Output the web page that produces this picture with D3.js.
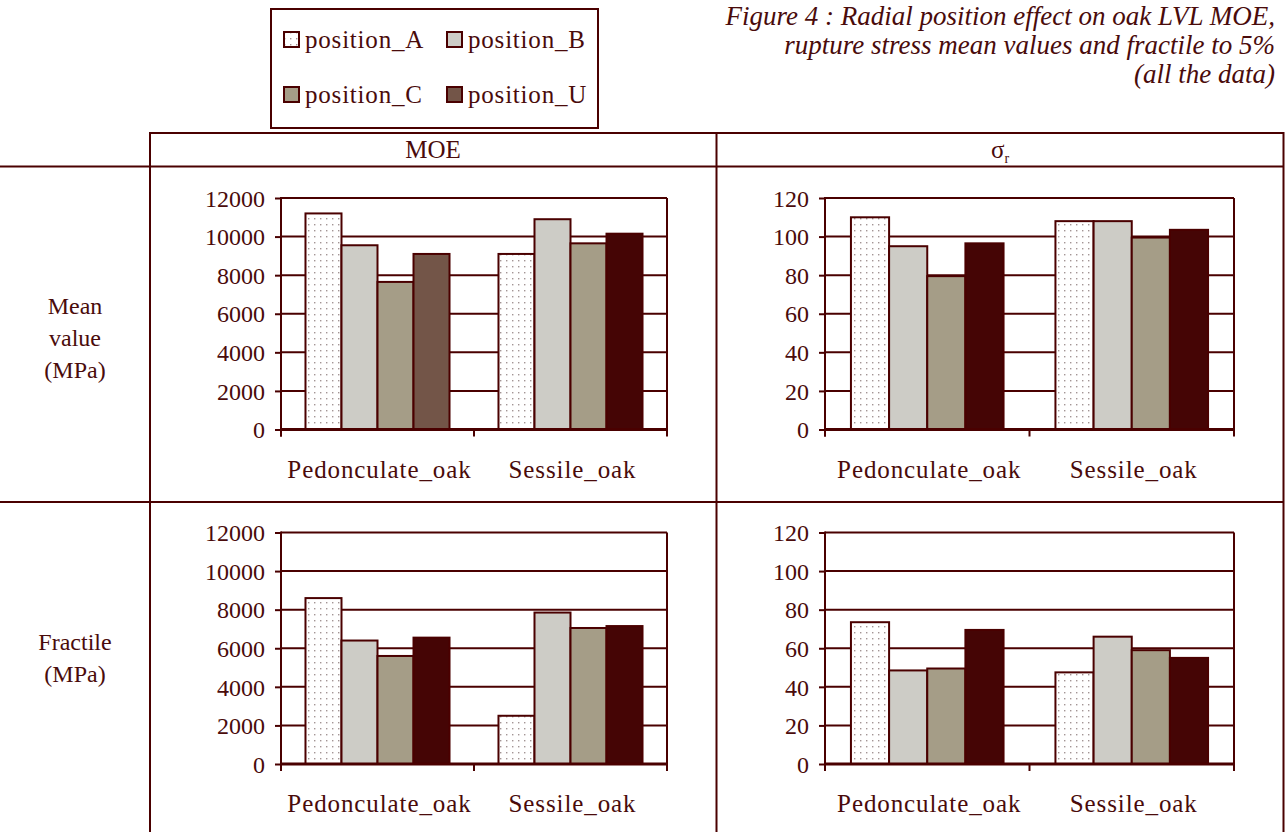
<!DOCTYPE html>
<html>
<head>
<meta charset="utf-8">
<script src="https://cdn.jsdelivr.net/npm/d3@7"></script>
<style>
  html, body { margin: 0; padding: 0; background: #fff; }
  svg { display: block; }
  text { font-family: "Liberation Serif", "Times New Roman", serif; fill: #4a0b0b; }
</style>
</head>
<body>
<svg id="chart" width="1286" height="832"></svg>
<script>
// ---------- data ----------
const categories = ["Pedonculate_oak", "Sessile_oak"];
const series = ["position_A", "position_B", "position_C", "position_U"];

const moeMean      = { position_A: [11200, 9100], position_B: [9550, 10900], position_C: [7650, 9650], position_U: [9100, 10150] };
const sigmaMean    = { position_A: [110, 108],    position_B: [95, 108],     position_C: [79.5, 99.5], position_U: [96.5, 103.5] };
const moeFractile  = { position_A: [8600, 2500],  position_B: [6400, 7850],  position_C: [5600, 7050], position_U: [6550, 7150] };
const sigmaFractile= { position_A: [73.5, 47.5],  position_B: [48.5, 66],    position_C: [49.5, 59],   position_U: [69.5, 55] };

const moeTicks = [0, 2000, 4000, 6000, 8000, 10000, 12000];
const sigmaTicks = [0, 20, 40, 60, 80, 100, 120];

const titleLines = [
  "Figure 4 : Radial position effect on oak LVL MOE,",
  "rupture stress mean values and fractile to 5%",
  "(all the data)"
];
const columnHeaders = ["MOE", "σ"];
const rowHeaders = [["Mean", "value", "(MPa)"], ["Fractile", "(MPa)"]];

// ---------- styles ----------
const LINE = "#4a0000";
const colors = { position_A: "url(#dots)", position_B: "#cdccc6", position_C: "#a59d87", position_U: "#735548" };
const darkU = "#450505";

const svg = d3.select("#chart");
const defs = svg.append("defs");
const pat = defs.append("pattern").attr("id", "dots").attr("patternUnits", "userSpaceOnUse")
  .attr("width", 6).attr("height", 6);
pat.append("rect").attr("width", 6).attr("height", 6).attr("fill", "#fff");
pat.append("rect").attr("x", 2).attr("y", 2).attr("width", 1.4).attr("height", 1.4).attr("fill", "#a39595");

// ---------- table frame ----------
const tbl = svg.append("g").attr("stroke", LINE).attr("stroke-width", 2).attr("fill", "none");
tbl.append("line").attr("x1", 149).attr("x2", 1284).attr("y1", 133).attr("y2", 133);
tbl.append("line").attr("x1", 0).attr("x2", 1284).attr("y1", 166.5).attr("y2", 166.5);
tbl.append("line").attr("x1", 0).attr("x2", 1284).attr("y1", 502).attr("y2", 502);
tbl.append("line").attr("x1", 150).attr("x2", 150).attr("y1", 132).attr("y2", 832);
tbl.append("line").attr("x1", 716.5).attr("x2", 716.5).attr("y1", 132).attr("y2", 832);
tbl.append("line").attr("x1", 1283.5).attr("x2", 1283.5).attr("y1", 132).attr("y2", 832);

// column headers
svg.append("text").attr("x", 433).attr("y", 158).attr("text-anchor", "middle")
  .attr("font-size", 25).text(columnHeaders[0]);
const sig = svg.append("text").attr("x", 1000).attr("y", 158).attr("text-anchor", "middle").attr("font-size", 25);
sig.append("tspan").text(columnHeaders[1]);
sig.append("tspan").attr("font-size", 14).attr("dy", 5).text("r");

// row headers
const rowCenters = [[314, 346, 378], [650, 682]];
rowHeaders.forEach((lines, i) => {
  lines.forEach((t, j) => {
    svg.append("text").attr("x", 75).attr("y", rowCenters[i][j]).attr("text-anchor", "middle")
      .attr("font-size", 24).text(t);
  });
});

// title
titleLines.forEach((t, i) => {
  svg.append("text").attr("x", 1275).attr("y", 25 + i * 29).attr("text-anchor", "end")
    .attr("font-size", 27).attr("font-style", "italic").text(t);
});

// legend
const lg = svg.append("g");
lg.append("rect").attr("x", 271).attr("y", 9).attr("width", 327).attr("height", 119)
  .attr("fill", "none").attr("stroke", LINE).attr("stroke-width", 2);
const legPos = [[284, 32], [447, 32], [284, 87], [447, 87]];
series.forEach((s, i) => {
  const [lx, ly] = legPos[i];
  lg.append("rect").attr("x", lx).attr("y", ly).attr("width", 15).attr("height", 15)
    .attr("fill", colors[s]).attr("stroke", LINE).attr("stroke-width", 2);
  lg.append("text").attr("x", lx + 21).attr("y", ly + 16).attr("font-size", 25)
    .attr("letter-spacing", 0.8).text(s);
});

// ---------- panels ----------
const panels = [
  { data: moeMean,       ticks: moeTicks,   x0: 281, x1: 667,  y0: 198, y1: 429.5, brownU: true },
  { data: sigmaMean,     ticks: sigmaTicks, x0: 825, x1: 1234, y0: 198, y1: 429.5, brownU: false },
  { data: moeFractile,   ticks: moeTicks,   x0: 281, x1: 667,  y0: 532.5, y1: 764, brownU: false },
  { data: sigmaFractile, ticks: sigmaTicks, x0: 825, x1: 1234, y0: 532.5, y1: 764, brownU: false }
];

panels.forEach(p => {
  const g = svg.append("g");
  const yMax = p.ticks[p.ticks.length - 1];
  const y = d3.scaleLinear().domain([0, yMax]).range([p.y1, p.y0]);
  const x = d3.scaleBand().domain(categories).range([p.x0, p.x1]).paddingInner(0).paddingOuter(0);
  const xs = d3.scaleBand().domain(series).range([0, x.bandwidth()]).paddingInner(0).paddingOuter(0.68);

  // gridlines
  g.append("g").selectAll("line").data(p.ticks.filter(t => t > 0)).join("line")
    .attr("x1", p.x0).attr("x2", p.x1).attr("y1", d => y(d)).attr("y2", d => y(d))
    .attr("stroke", LINE).attr("stroke-width", 2);
  // right border
  g.append("line").attr("x1", p.x1).attr("x2", p.x1).attr("y1", p.y0).attr("y2", p.y1)
    .attr("stroke", LINE).attr("stroke-width", 2);

  // bars
  const rows = [];
  categories.forEach((c, ci) => series.forEach(s => rows.push({ c, ci, s, v: p.data[s][ci] })));
  g.append("g").selectAll("rect").data(rows).join("rect")
    .attr("x", d => x(d.c) + xs(d.s))
    .attr("width", xs.bandwidth())
    .attr("y", d => y(d.v))
    .attr("height", d => y(0) - y(d.v))
    .attr("fill", d => d.s === "position_U" ? ((p.brownU && d.ci === 0) ? colors.position_U : darkU) : colors[d.s])
    .attr("stroke", LINE).attr("stroke-width", 2);

  // y axis
  const ya = g.append("g").attr("transform", `translate(${p.x0},0)`)
    .call(d3.axisLeft(y).tickValues(p.ticks).tickSize(6).tickPadding(10).tickFormat(d3.format("d")));
  ya.select(".domain").remove();
  ya.selectAll(".tick line").attr("stroke", LINE).attr("stroke-width", 2);
  ya.selectAll(".tick text").attr("font-family", "Liberation Serif, serif").attr("font-size", 24)
    .attr("fill", "#4a0b0b").attr("dy", "0.34em");
  g.append("line").attr("x1", p.x0).attr("x2", p.x0).attr("y1", p.y0 - 1).attr("y2", p.y1 + 7)
    .attr("stroke", LINE).attr("stroke-width", 2);

  // x axis
  g.append("line").attr("x1", p.x0).attr("x2", p.x1 + 1).attr("y1", y(0)).attr("y2", y(0))
    .attr("stroke", LINE).attr("stroke-width", 3);
  const bounds = categories.map(c => x(c)).concat([p.x1]);
  g.append("g").selectAll("line").data(bounds).join("line")
    .attr("x1", d => d).attr("x2", d => d).attr("y1", y(0)).attr("y2", y(0) + 7)
    .attr("stroke", LINE).attr("stroke-width", 2);
  g.append("g").selectAll("text").data(categories).join("text")
    .attr("x", d => x(d) + x.bandwidth() / 2 + 2)
    .attr("y", y(0) + 48)
    .attr("text-anchor", "middle").attr("font-size", 25).attr("letter-spacing", 0.9)
    .text(d => d);
});
</script>
</body>
</html>
